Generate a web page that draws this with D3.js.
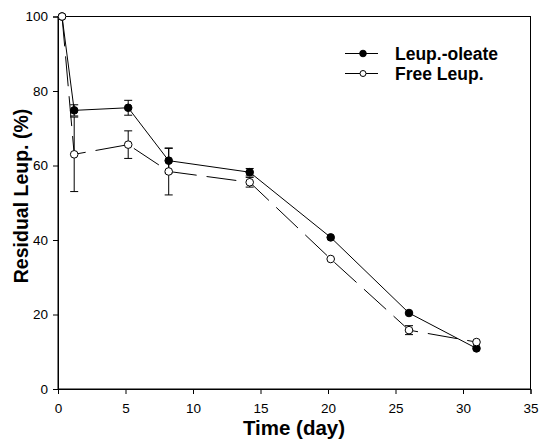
<!DOCTYPE html>
<html><head><meta charset="utf-8">
<script src="https://cdn.jsdelivr.net/npm/d3@7"></script>
<style>body{margin:0;background:#fff;} svg{display:block;}</style>
</head><body>
<script>
const days = [0.3, 1.2, 5.2, 8.2, 14.2, 20.2, 26.0, 31.0];
const oleate = [100, 74.8, 75.5, 61.3, 58.2, 40.7, 20.4, 10.9];
const oleateErr = [0, 1.5, 2.0, 3.3, 1.0, 0.5, 0.6, 0.5];
const freeLeup = [100, 63.0, 65.6, 58.4, 55.5, 34.9, 15.8, 12.6];
const freeErr = [0, 10.0, 3.7, 6.3, 1.3, 0.5, 1.2, 0.5];
const xTicks = [0, 5, 10, 15, 20, 25, 30, 35];
const yTicks = [0, 20, 40, 60, 80, 100];
const seriesNames = ["Leup.-oleate", "Free Leup."];

const W = 539, H = 439;
const m = {left: 58, right: 8.5, top: 16.5, bottom: 50};
const svg = d3.select("body").append("svg").attr("width", W).attr("height", H);
const x = d3.scaleLinear().domain([0, 35]).range([m.left, W - m.right]);
const y = d3.scaleLinear().domain([0, 100]).range([H - m.bottom, m.top]);
const font = "Arial, 'Liberation Sans', sans-serif";

// frame
svg.append("rect").attr("x", x(0)).attr("y", y(100)).attr("width", x(35) - x(0)).attr("height", y(0) - y(100))
  .attr("fill", "none").attr("stroke", "#000").attr("stroke-width", 1);

const xAxis = svg.append("g").attr("transform", `translate(0,${y(0)})`)
  .call(d3.axisBottom(x).tickValues(xTicks).tickSize(5).tickPadding(9).tickFormat(d3.format("d")));
const yAxis = svg.append("g").attr("transform", `translate(${x(0)},0)`)
  .call(d3.axisLeft(y).tickValues(yTicks).tickSize(5).tickPadding(5).tickFormat(d3.format("d")));
[xAxis, yAxis].forEach(g => {
  g.select(".domain").attr("stroke", "#000");
  g.selectAll("text").attr("font-family", font).attr("font-size", 13.5).attr("fill", "#000");
});

// axis titles
svg.append("text").attr("x", 294).attr("y", 435).attr("text-anchor", "middle")
  .attr("font-family", font).attr("font-weight", "bold").attr("font-size", 20.5).text("Time (day)");
svg.append("text").attr("transform", `translate(28,196) rotate(-90)`).attr("text-anchor", "middle")
  .attr("font-family", font).attr("font-weight", "bold").attr("font-size", 19.5).text("Residual Leup. (%)");

function drawSeries(vals, errs, filled, dash) {
  const g = svg.append("g");
  const pts = days.map((d, i) => ({x: d, y: vals[i], e: errs[i]}));
  g.append("path").datum(pts).attr("fill", "none").attr("stroke", "#000").attr("stroke-width", 1)
    .attr("stroke-dasharray", dash)
    .attr("d", d3.line().x(d => x(d.x)).y(d => y(d.y)));
  pts.filter(d => d.e > 0.8).forEach(d => {
    g.append("line").attr("x1", x(d.x)).attr("x2", x(d.x)).attr("y1", y(d.y - d.e)).attr("y2", y(d.y + d.e)).attr("stroke", "#000");
    [d.y - d.e, d.y + d.e].forEach(v => g.append("line").attr("x1", x(d.x) - 4).attr("x2", x(d.x) + 4)
      .attr("y1", y(v)).attr("y2", y(v)).attr("stroke", "#000"));
  });
  g.selectAll("circle").data(pts).join("circle").attr("cx", d => x(d.x)).attr("cy", d => y(d.y))
    .attr("r", 3.8).attr("fill", filled ? "#000" : "#fff").attr("stroke", "#000").attr("stroke-width", 1);
}
drawSeries(oleate, oleateErr, true, null);
drawSeries(freeLeup, freeErr, false, "30,10");

// legend
const leg = svg.append("g");
seriesNames.forEach((name, i) => {
  const ly = 53.5 + i * 20;
  leg.append("line").attr("x1", 345).attr("x2", 378).attr("y1", ly).attr("y2", ly).attr("stroke", "#000");
  leg.append("circle").attr("cx", 363).attr("cy", ly).attr("r", i === 0 ? 3.3 : 3)
    .attr("fill", i === 0 ? "#000" : "#fff").attr("stroke", "#000");
  leg.append("text").attr("x", 395).attr("y", ly + 6).attr("font-family", font).attr("font-weight", "bold")
    .attr("font-size", 17.5).text(name);
});
</script>
</body></html>
